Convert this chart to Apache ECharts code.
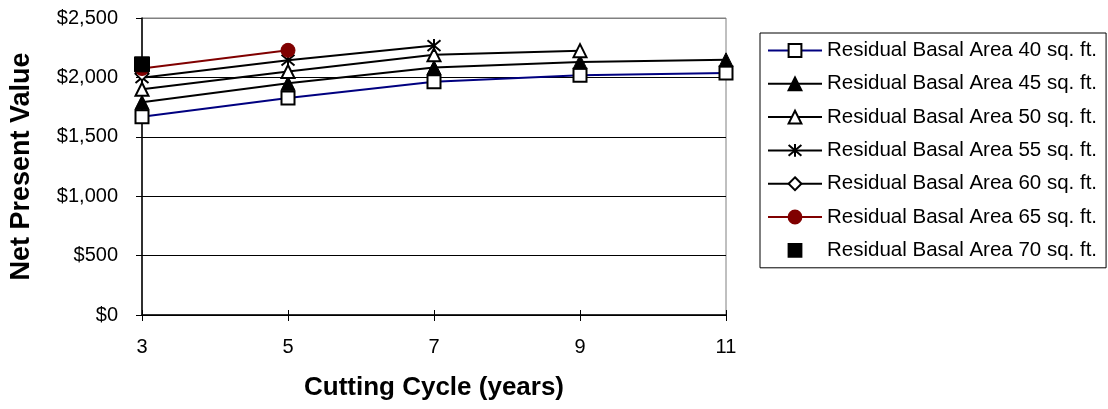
<!DOCTYPE html>
<html>
<head>
<meta charset="utf-8">
<script src="https://cdn.jsdelivr.net/npm/echarts@6/dist/echarts.min.js"></script>
<style>
html,body{margin:0;padding:0;background:#fff;}
#chart{width:1108px;height:409px;}
</style>
</head>
<body>
<div id="chart"></div>
<script>
const cycles = [3, 5, 7, 9, 11];
const ba40 = [1668, 1826, 1964, 2018, 2036];
const ba45 = [1790, 1950, 2083, 2130, 2148];
const ba50 = [1900, 2050, 2190, 2225];
const ba55 = [1998, 2145, 2268];
const ba60 = [2030];
const ba65 = [2075, 2228];
const ba70 = [2110];
const seriesNames = [
  'Residual Basal Area 40 sq. ft.',
  'Residual Basal Area 45 sq. ft.',
  'Residual Basal Area 50 sq. ft.',
  'Residual Basal Area 55 sq. ft.',
  'Residual Basal Area 60 sq. ft.',
  'Residual Basal Area 65 sq. ft.',
  'Residual Basal Area 70 sq. ft.'
];
const yTicks = [0, 500, 1000, 1500, 2000, 2500];

const FONT = '"Liberation Sans", Arial, sans-serif';
const asterisk = 'path://M0,0 L10,10 M10,0 L0,10 M5,-1 L5,11';

function pairs(vals) { return vals.map((v, i) => [cycles[i], v]); }

function mk(name, vals, opts) {
  return Object.assign({
    name: name,
    type: 'line',
    data: pairs(vals),
    symbolSize: 13,
    lineStyle: { color: '#000', width: 2 },
    itemStyle: { color: '#000', borderColor: '#000', borderWidth: 2 },
    emphasis: { disabled: true },
    animation: false,
    z: 3
  }, opts);
}

const series = [
  mk(seriesNames[0], ba40, { symbol: 'rect', lineStyle: { color: '#000080', width: 2 }, itemStyle: { color: '#fff', borderColor: '#000', borderWidth: 2 } }),
  mk(seriesNames[1], ba45, { symbol: 'triangle', symbolSize: 14, itemStyle: { color: '#000', borderColor: '#000', borderWidth: 1 } }),
  mk(seriesNames[2], ba50, { symbol: 'triangle', symbolSize: 13, itemStyle: { color: '#fff', borderColor: '#000', borderWidth: 2 } }),
  mk(seriesNames[3], ba55, { symbol: asterisk, symbolSize: 13, itemStyle: { color: 'none', borderColor: '#000', borderWidth: 2 } }),
  mk(seriesNames[4], ba60, { symbol: 'diamond', symbolSize: 13, itemStyle: { color: '#fff', borderColor: '#000', borderWidth: 2 } }),
  mk(seriesNames[5], ba65, { symbol: 'circle', symbolSize: 14, lineStyle: { color: '#800000', width: 2 }, itemStyle: { color: '#800000', borderColor: '#800000', borderWidth: 1 } }),
  mk(seriesNames[6], ba70, { symbol: 'rect', symbolSize: 15, lineStyle: { color: '#000', width: 0, opacity: 0 }, itemStyle: { color: '#000', borderColor: '#000', borderWidth: 1 } })
];

const legendData = seriesNames.map((n, i) => (i === 6 ? { name: n, lineStyle: { width: 0, opacity: 0 } } : { name: n }));

const chart = echarts.init(document.getElementById('chart'), null, { renderer: 'canvas' });
chart.setOption({
  animation: false,
  backgroundColor: '#fff',
  textStyle: { fontFamily: FONT, color: '#000' },
  grid: {
    left: 142, right: 382, top: 18, bottom: 94,
    show: true, borderColor: '#808080', borderWidth: 1, backgroundColor: 'transparent'
  },
  legend: {
    orient: 'vertical',
    left: 760, top: 33,
    padding: [7, 9, 7, 7],
    itemGap: 12.3,
    itemWidth: 54,
    itemHeight: 16,
    borderColor: '#000',
    borderWidth: 1,
    backgroundColor: '#fff',
    lineStyle: { width: 2 },
    textStyle: { fontFamily: FONT, fontSize: 20.5, color: '#000', lineHeight: 20 },
    data: legendData,
    selectedMode: false
  },
  xAxis: [{
    type: 'value',
    min: 3, max: 11, interval: 2,
    name: 'Cutting Cycle (years)',
    nameLocation: 'middle',
    nameGap: 60,
    nameTextStyle: { fontFamily: FONT, fontSize: 26, fontWeight: 'bold', color: '#000' },
    axisLine: { show: true, onZero: false, lineStyle: { color: '#000', width: 1.5 } },
    axisTick: { show: true, length: 6, lineStyle: { color: '#000', width: 1 } },
    axisLabel: { fontFamily: FONT, fontSize: 20, color: '#000', margin: 22 },
    splitLine: { show: false }
  }, {
    type: 'value',
    min: 3, max: 11, interval: 2,
    position: 'bottom',
    axisLine: { show: false },
    axisTick: { show: true, inside: true, length: 5, lineStyle: { color: '#000', width: 1 } },
    axisLabel: { show: false },
    splitLine: { show: false }
  }],
  yAxis: {
    type: 'value',
    min: 0, max: 2500, interval: 500,
    name: 'Net Present Value',
    nameLocation: 'middle',
    nameGap: 107,
    nameTextStyle: { fontFamily: FONT, fontSize: 27, fontWeight: 'bold', color: '#000' },
    axisLine: { show: true, lineStyle: { color: '#000', width: 1.5 } },
    axisTick: { show: true, length: 6, lineStyle: { color: '#000', width: 1 } },
    axisLabel: {
      fontFamily: FONT, fontSize: 20, color: '#000', margin: 24,
      formatter: v => '$' + v.toLocaleString('en-US')
    },
    splitLine: { show: true, lineStyle: { color: yTicks.map((t, i) => i === yTicks.length - 1 ? '#808080' : '#000'), width: 1 } }
  },
  series: series
});
</script>
</body>
</html>
